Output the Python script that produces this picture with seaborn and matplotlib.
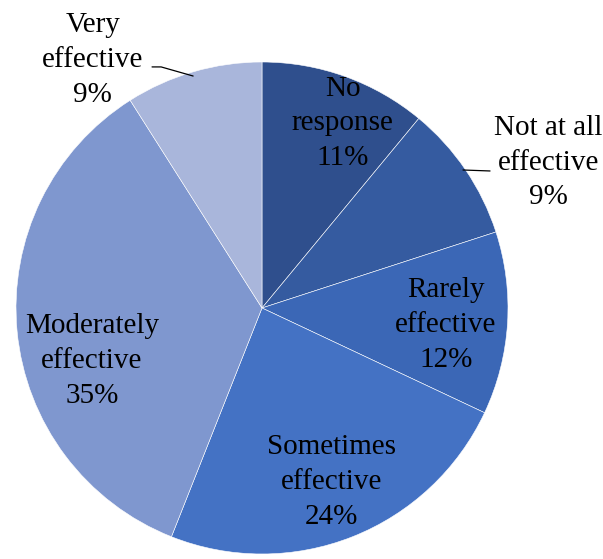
import numpy as np
import matplotlib
matplotlib.use("Agg")
import matplotlib.pyplot as plt
import seaborn as sns

# Survey shares (percent), clockwise from 12 o'clock
categories = ["No\nresponse", "Not at all\neffective", "Rarely\neffective",
              "Sometimes\neffective", "Moderately\neffective", "Very\neffective"]
shares = [11, 9, 12, 24, 35, 9]
colors = ["#2F4F8D", "#355BA0", "#3B67B6", "#4472C4", "#7F97CF", "#A9B6DB"]

# label radius (fraction of pie radius) and angle tweak (deg) per slice
label_radius = [0.82, 1.304, 0.751, 0.762, 0.724, 1.22]
label_shift = [3.8, 7.3, 1.7, -0.3, -11.9, -18.1]

sns.set_theme(style="white")
plt.rcParams["font.family"] = ["Liberation Serif", "DejaVu Serif"]

fig = plt.figure(figsize=(6.03, 5.59), dpi=100)
R = 246
ax = fig.add_axes([(262 - R) / 603, (251 - R) / 559, 2 * R / 603, 2 * R / 559])

wedges, _ = ax.pie(shares, colors=colors, startangle=90, counterclock=False,
                   radius=1, wedgeprops=dict(edgecolor="white", linewidth=0.4))

cum = np.cumsum([0] + shares)
for i, (lab, val) in enumerate(zip(categories, shares)):
    mid = (cum[i] + cum[i + 1]) / 2 / 100 * 360 + label_shift[i]
    ang = np.deg2rad(90 - mid)
    x, y = label_radius[i] * np.cos(ang), label_radius[i] * np.sin(ang)
    ax.text(x, y, f"{lab}\n{val}%", ha="center", va="center", fontsize=21,
            linespacing=1.43, color="black", clip_on=False)

# leader lines for the two outside labels
ax.plot([0.817, 0.927], [0.561, 0.557], color="black", lw=0.9, clip_on=False)
ax.plot([-0.28, -0.41, -0.447], [0.943, 0.98, 0.98], color="black", lw=0.9,
        clip_on=False)

ax.set_xlim(-1, 1)
ax.set_ylim(-1, 1)
ax.axis("off")

fig.savefig("out.png", dpi=100)
